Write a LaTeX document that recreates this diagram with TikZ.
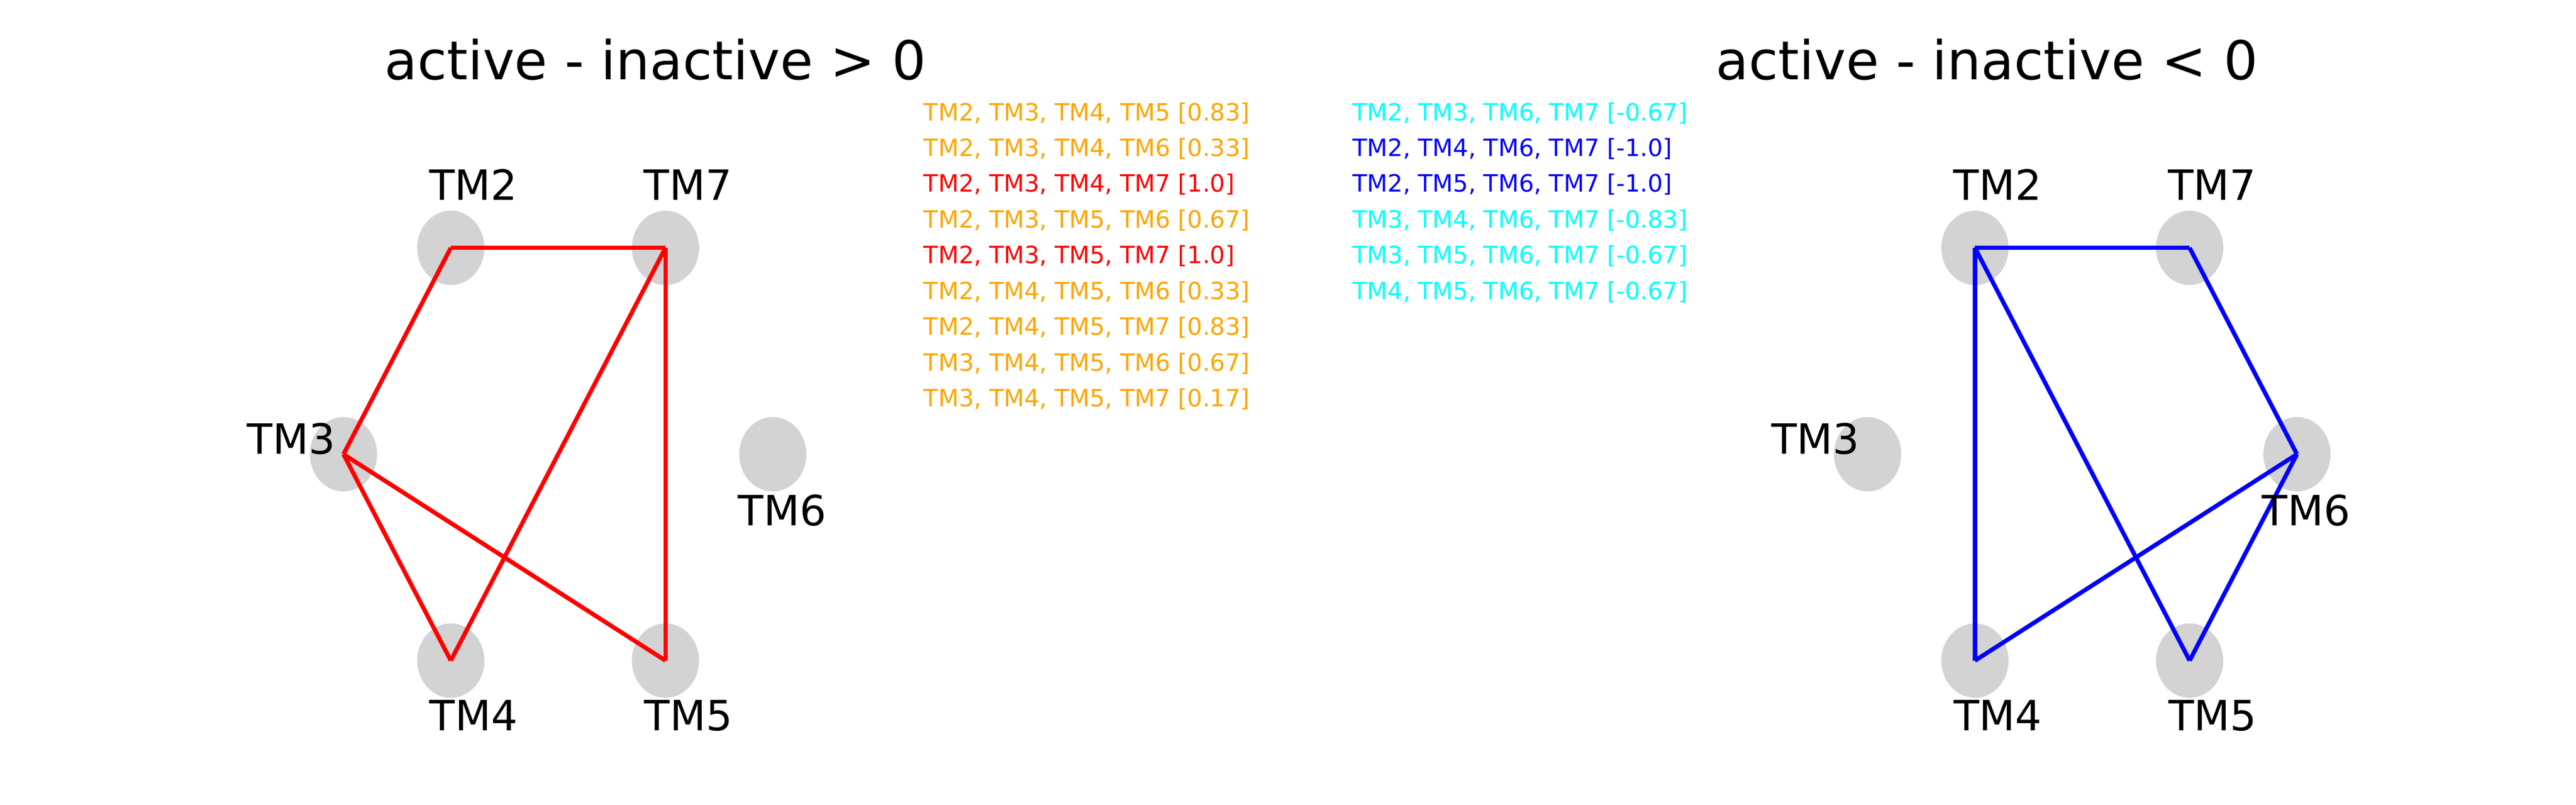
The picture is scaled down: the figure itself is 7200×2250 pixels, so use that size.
\documentclass[tikz,border=0pt]{standalone}
\usepackage{fontspec}
\setmainfont{DejaVu Sans}
\usetikzlibrary{shapes.geometric}
\definecolor{nodegray}{HTML}{D3D3D3}
\definecolor{mporange}{HTML}{FFA500}
\definecolor{mpred}{HTML}{FF0000}
\definecolor{mpcyan}{HTML}{00FFFF}
\definecolor{mpblue}{HTML}{0000FF}
\begin{document}
\begin{tikzpicture}[x=0.24pt,y=-0.24pt,
  tmnode/.style={ellipse, fill=nodegray, draw=none, minimum width=45.1pt, minimum height=49.9pt, inner sep=0pt},
  tmlabel/.style={anchor=base, inner sep=0pt, font=\fontsize{28}{33.6}\selectfont},
  titlelabel/.style={anchor=base, inner sep=0pt, font=\fontsize{36}{43.2}\selectfont},
  listlabel/.style={anchor=base west, inner sep=0pt, font=\fontsize{16}{19.2}\selectfont},
  redge/.style={draw=mpred, line width=2.88pt},
  bedge/.style={draw=mpblue, line width=2.88pt}]
\useasboundingbox (0,0) rectangle (7200,2250);
% left graph nodes
\node[tmnode] (L2) at (1260,693) {};
\node[tmnode] (L7) at (1860,693) {};
\node[tmnode] (L3) at (960,1270) {};
\node[tmnode] (L6) at (2160,1270) {};
\node[tmnode] (L4) at (1260,1847) {};
\node[tmnode] (L5) at (1860,1847) {};
% right graph nodes
\node[tmnode] (R2) at (5520,693) {};
\node[tmnode] (R7) at (6120,693) {};
\node[tmnode] (R3) at (5220,1270) {};
\node[tmnode] (R6) at (6420,1270) {};
\node[tmnode] (R4) at (5520,1847) {};
\node[tmnode] (R5) at (6120,1847) {};
% left edges
\draw[redge] (L2.center) -- (L7.center);
\draw[redge] (L2.center) -- (L3.center);
\draw[redge] (L3.center) -- (L4.center);
\draw[redge] (L3.center) -- (L5.center);
\draw[redge] (L4.center) -- (L7.center);
\draw[redge] (L7.center) -- (L5.center);
% right edges
\draw[bedge] (R2.center) -- (R7.center);
\draw[bedge] (R2.center) -- (R4.center);
\draw[bedge] (R2.center) -- (R5.center);
\draw[bedge] (R7.center) -- (R6.center);
\draw[bedge] (R6.center) -- (R4.center);
\draw[bedge] (R6.center) -- (R5.center);
% left labels
\node[tmlabel] (tL2) at (1323,559) {TM2};
\node[tmlabel] (tL7) at (1923,559) {TM7};
\node[tmlabel] (tL3) at (814,1270) {TM3};
\node[tmlabel] (tL6) at (2186,1470) {TM6};
\node[tmlabel] (tL4) at (1324,2042) {TM4};
\node[tmlabel] (tL5) at (1924,2042) {TM5};
% right labels
\node[tmlabel] (tR2) at (5583,559) {TM2};
\node[tmlabel] (tR7) at (6183,559) {TM7};
\node[tmlabel] (tR3) at (5074,1270) {TM3};
\node[tmlabel] (tR6) at (6446,1470) {TM6};
\node[tmlabel] (tR4) at (5584,2042) {TM4};
\node[tmlabel] (tR5) at (6184,2042) {TM5};
% titles
\node[titlelabel] (titleL) at (1832,222) {active - inactive > 0};
\node[titlelabel] (titleR) at (5553,222) {active - inactive < 0};
% left list
\node[listlabel, text=mporange] (a1) at (2581,337) {TM2, TM3, TM4, TM5 [0.83]};
\node[listlabel, text=mporange] (a2) at (2581,437) {TM2, TM3, TM4, TM6 [0.33]};
\node[listlabel, text=mpred]    (a3) at (2581,537) {TM2, TM3, TM4, TM7 [1.0]};
\node[listlabel, text=mporange] (a4) at (2581,637) {TM2, TM3, TM5, TM6 [0.67]};
\node[listlabel, text=mpred]    (a5) at (2581,737) {TM2, TM3, TM5, TM7 [1.0]};
\node[listlabel, text=mporange] (a6) at (2581,837) {TM2, TM4, TM5, TM6 [0.33]};
\node[listlabel, text=mporange] (a7) at (2581,937) {TM2, TM4, TM5, TM7 [0.83]};
\node[listlabel, text=mporange] (a8) at (2581,1037) {TM3, TM4, TM5, TM6 [0.67]};
\node[listlabel, text=mporange] (a9) at (2581,1137) {TM3, TM4, TM5, TM7 [0.17]};
% right list
\node[listlabel, text=mpcyan] (b1) at (3780,337) {TM2, TM3, TM6, TM7 [-0.67]};
\node[listlabel, text=mpblue] (b2) at (3780,437) {TM2, TM4, TM6, TM7 [-1.0]};
\node[listlabel, text=mpblue] (b3) at (3780,537) {TM2, TM5, TM6, TM7 [-1.0]};
\node[listlabel, text=mpcyan] (b4) at (3780,637) {TM3, TM4, TM6, TM7 [-0.83]};
\node[listlabel, text=mpcyan] (b5) at (3780,737) {TM3, TM5, TM6, TM7 [-0.67]};
\node[listlabel, text=mpcyan] (b6) at (3780,837) {TM4, TM5, TM6, TM7 [-0.67]};
\end{tikzpicture}
\end{document}
